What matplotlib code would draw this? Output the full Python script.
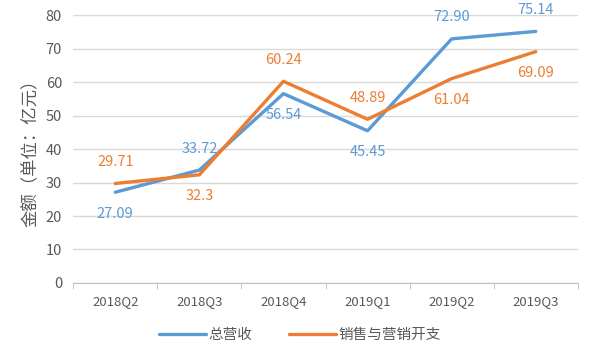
import matplotlib
matplotlib.use("Agg")
import matplotlib.pyplot as plt

plt.rcParams["font.family"] = ["Noto Sans CJK SC", "DejaVu Sans"]

quarters = ["2018Q2", "2018Q3", "2018Q4", "2019Q1", "2019Q2", "2019Q3"]
revenue = [27.09, 33.72, 56.54, 45.45, 72.90, 75.14]
revenue_labels = ["27.09", "33.72", "56.54", "45.45", "72.90", "75.14"]
marketing = [29.71, 32.3, 60.24, 48.89, 61.04, 69.09]
marketing_labels = ["29.71", "32.3", "60.24", "48.89", "61.04", "69.09"]
# label above (+1) or below (-1) the point
revenue_side = [-1, 1, -1, -1, 1, 1]
marketing_side = [1, -1, 1, 1, -1, -1]

blue = "#5B9BD5"
orange = "#ED7D31"
grey = "#595959"

fig = plt.figure(figsize=(6, 3.6), dpi=100)
ax = fig.add_axes([0.122, 0.214, 0.841, 0.744])

x = list(range(len(quarters)))
ax.plot(x, revenue, color=blue, lw=2.4, label="总营收", solid_capstyle="round")
ax.plot(x, marketing, color=orange, lw=2.4, label="销售与营销开支", solid_capstyle="round")

for xi, v, s, side in zip(x, revenue, revenue_labels, revenue_side):
    ax.annotate(s, (xi, v), xytext=(0, 15.5 * side), textcoords="offset points",
                ha="center", va="center", color=blue, fontsize=10.5)
for xi, v, s, side in zip(x, marketing, marketing_labels, marketing_side):
    ax.annotate(s, (xi, v), xytext=(0, 15.5 * side), textcoords="offset points",
                ha="center", va="center", color=orange, fontsize=10.5)

ax.set_xlim(-0.5, len(quarters) - 0.5)
ax.set_ylim(0, 80)
ax.set_yticks(range(0, 81, 10))
ax.set_xticks(x)
ax.set_xticklabels(quarters)
ax.set_xticks([i - 0.5 for i in range(len(quarters) + 1)], minor=True)
ax.tick_params(axis="x", which="major", length=0, pad=9, labelsize=9.5, colors=grey)
ax.tick_params(axis="x", which="minor", length=4, color="#BFBFBF")
ax.tick_params(axis="y", length=0, pad=8, labelsize=10.5, colors=grey)
ax.grid(axis="y", color="#D9D9D9", lw=1)
ax.set_axisbelow(True)
for side in ["top", "right", "left"]:
    ax.spines[side].set_visible(False)
ax.spines["bottom"].set_color("#BFBFBF")
ax.set_ylabel("金额（单位：亿元）", color=grey, fontsize=12.5, labelpad=4)

fig.legend(loc="center", bbox_to_anchor=(0.5, 0.07), ncol=2, frameon=False,
           fontsize=10.5, labelcolor=grey, handlelength=3.2, handletextpad=0.2,
           columnspacing=2.5)

fig.savefig("out.png", dpi=100)
